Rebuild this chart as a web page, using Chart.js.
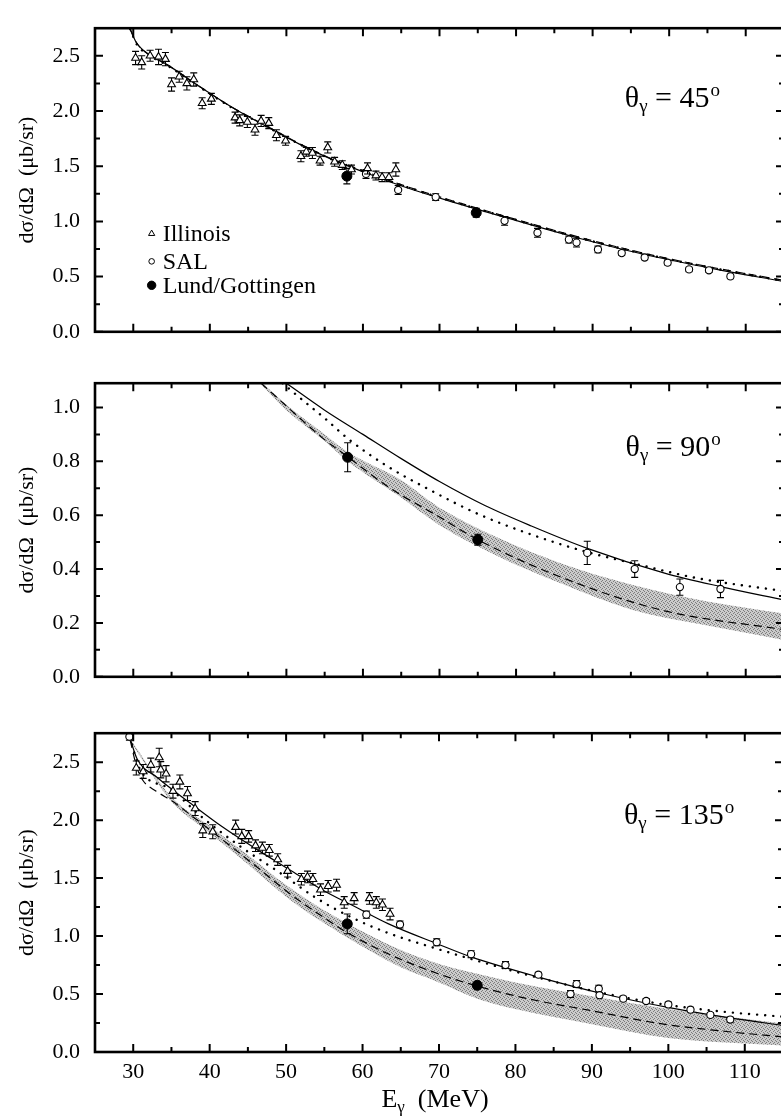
<!DOCTYPE html>
<html>
<head>
<meta charset="utf-8">
<script src="https://cdn.jsdelivr.net/npm/chart.js@4.4.1/dist/chart.umd.min.js"></script>
<style>
  html, body { margin: 0; padding: 0; background: #fff; overflow: hidden; }
  #page { position: relative; width: 781px; height: 1119px; overflow: hidden; }
  #page canvas { position: absolute; left: 0; }
</style>
</head>
<body>
<div id="page">
  <canvas id="c45"  width="790" height="360" style="top:0"></canvas>
  <canvas id="c90"  width="790" height="350" style="top:355px"></canvas>
  <canvas id="c135" width="790" height="414" style="top:705px"></canvas>
</div>
<script>
'use strict';

const FONT = '"Liberation Serif", "Times New Roman", serif';

// axis ticks
const xTicks   = [25, 30, 35, 40, 45, 50, 55, 60, 65, 70, 75, 80, 85, 90, 95, 100, 105, 110, 115];
const xLabels  = [30, 40, 50, 60, 70, 80, 90, 100, 110];
const yTicksA  = [0, 0.25, 0.5, 0.75, 1, 1.25, 1.5, 1.75, 2, 2.25, 2.5];
const yLabelsA = [0, 0.5, 1, 1.5, 2, 2.5];
const yTicksB  = [0, 0.1, 0.2, 0.3, 0.4, 0.5, 0.6, 0.7, 0.8, 0.9, 1.0];
const yLabelsB = [0, 0.2, 0.4, 0.6, 0.8, 1.0];

// theta = 45 deg
const ill45E   = [30.3, 31.1, 32.2, 33.3, 34.2, 35.0, 36.0, 37.0, 37.9, 39.0, 40.2, 43.3, 43.9, 44.9, 45.9, 46.7, 47.7, 48.7, 49.9, 51.9, 52.6, 53.4, 54.4, 55.4, 56.3, 57.3, 58.5, 60.6, 61.7, 62.5, 63.4, 64.3];
const ill45V   = [2.48, 2.44, 2.50, 2.49, 2.47, 2.24, 2.31, 2.25, 2.285, 2.07, 2.11, 1.94, 1.915, 1.90, 1.83, 1.91, 1.89, 1.78, 1.73, 1.59, 1.63, 1.62, 1.55, 1.67, 1.54, 1.51, 1.47, 1.48, 1.415, 1.40, 1.40, 1.47];
const ill45Err = [0.06, 0.06, 0.05, 0.07, 0.06, 0.06, 0.05, 0.06, 0.06, 0.05, 0.05, 0.05, 0.05, 0.05, 0.05, 0.05, 0.05, 0.05, 0.04, 0.05, 0.04, 0.05, 0.04, 0.05, 0.04, 0.04, 0.04, 0.05, 0.04, 0.04, 0.04, 0.06];
const sal45E   = [60.4, 64.6, 69.5, 78.5, 82.8, 86.9, 87.9, 90.7, 93.8, 96.8, 99.8, 102.6, 105.2, 108.0];
const sal45V   = [1.43, 1.285, 1.22, 1.005, 0.897, 0.835, 0.808, 0.746, 0.713, 0.673, 0.626, 0.565, 0.557, 0.502];
const sal45Err = [0.04, 0.04, 0.03, 0.04, 0.04, 0.03, 0.04, 0.03, 0.02, 0.02, 0.02, 0.02, 0.02, 0.02];
const lund45E   = [57.9, 74.8];
const lund45V   = [1.41, 1.078];
const lund45Err = [0.07, 0.04];
const curve45E = [29.6, 30.4, 31.3, 32.8, 34.4, 38.7, 43.0, 47.4, 51.7, 56.0, 60.4, 64.7, 70.8, 79.4, 88.1, 96.8, 105.5, 115];
const solid45  = [2.74, 2.62, 2.55, 2.48, 2.42, 2.22, 2.03, 1.86, 1.70, 1.56, 1.44, 1.33, 1.195, 1.02, 0.85, 0.70, 0.575, 0.455];
const dashed45 = [2.74, 2.62, 2.55, 2.48, 2.42, 2.22, 2.03, 1.865, 1.705, 1.565, 1.45, 1.34, 1.205, 1.03, 0.86, 0.71, 0.585, 0.465];
const dotted45 = [2.74, 2.61, 2.54, 2.475, 2.415, 2.215, 2.025, 1.86, 1.70, 1.56, 1.445, 1.335, 1.20, 1.025, 0.855, 0.705, 0.58, 0.46];

// theta = 90 deg
const sal90E   = [89.3, 95.5, 101.4, 106.7];
const sal90V   = [0.46, 0.40, 0.333, 0.326];
const sal90Err = [0.043, 0.031, 0.03, 0.032];
const lund90E   = [58.0, 75.0];
const lund90V   = [0.815, 0.509];
const lund90Err = [0.054, 0.02];
const solid90E  = [50.0, 55.0, 60.0, 65.0, 70.0, 76.0, 82.0, 89.3, 99.4, 106.7, 115];
const solid90V  = [1.09, 0.99, 0.90, 0.81, 0.725, 0.635, 0.56, 0.477, 0.385, 0.335, 0.285];
const dotted90E = [49.5, 52.0, 55.0, 58.0, 63.0, 69.0, 75.0, 82.0, 89.3, 95.5, 103.7, 115];
const dotted90V = [1.09, 1.03, 0.96, 0.885, 0.785, 0.69, 0.605, 0.528, 0.463, 0.42, 0.366, 0.318];
const dashed90E = [46.7, 50.4, 54.7, 58.0, 63.4, 69.9, 75.0, 86.4, 99.4, 115];
const dashed90V = [1.09, 0.995, 0.887, 0.817, 0.703, 0.595, 0.509, 0.364, 0.245, 0.175];
const band90E  = [46.7, 50, 55, 58, 64.7, 70, 77.7, 86, 95, 105, 115];
const band90Hi = [1.095, 1.01, 0.90, 0.835, 0.735, 0.628, 0.515, 0.42, 0.343, 0.28, 0.235];
const band90Lo = [1.085, 0.99, 0.875, 0.80, 0.671, 0.563, 0.447, 0.345, 0.25, 0.19, 0.137];

// theta = 135 deg
const ill135E   = [30.4, 31.3, 32.3, 33.4, 33.6, 34.3, 35.2, 36.1, 37.1, 38.1, 39.1, 40.4, 43.4, 44.2, 45.1, 46.0, 46.9, 47.8, 48.9, 50.2, 52.0, 52.8, 53.5, 54.5, 55.5, 56.6, 57.6, 58.9, 60.9, 61.8, 62.6, 63.6];
const ill135V   = [2.45, 2.42, 2.475, 2.54, 2.435, 2.40, 2.25, 2.33, 2.23, 2.10, 1.91, 1.90, 1.94, 1.86, 1.86, 1.78, 1.76, 1.74, 1.66, 1.56, 1.49, 1.51, 1.49, 1.40, 1.43, 1.44, 1.29, 1.325, 1.325, 1.29, 1.27, 1.19];
const ill135Err = [0.06, 0.06, 0.06, 0.08, 0.07, 0.07, 0.06, 0.06, 0.06, 0.06, 0.06, 0.06, 0.06, 0.06, 0.05, 0.05, 0.05, 0.05, 0.05, 0.05, 0.05, 0.05, 0.05, 0.05, 0.05, 0.05, 0.05, 0.05, 0.05, 0.05, 0.05, 0.05];
const sal135E   = [29.5, 60.5, 64.9, 69.7, 74.2, 78.7, 83.0, 87.2, 88.0, 90.9, 91.0, 94.1, 97.1, 100.0, 102.9, 105.5, 108.1];
const sal135V   = [2.72, 1.185, 1.10, 0.947, 0.844, 0.75, 0.667, 0.50, 0.586, 0.546, 0.49, 0.46, 0.44, 0.41, 0.365, 0.32, 0.28];
const sal135Err = [0.03, 0.03, 0.03, 0.03, 0.03, 0.03, 0.02, 0.03, 0.03, 0.03, 0.02, 0.02, 0.02, 0.02, 0.02, 0.02, 0.02];
const lund135E   = [58.0, 75.0];
const lund135V   = [1.105, 0.575];
const lund135Err = [0.085, 0.03];
const solid135E  = [29.4, 30.5, 33.1, 37.4, 41.7, 46.1, 50.4, 54.7, 59.1, 63.4, 69.9, 74.2, 82.9, 91.6, 100.3, 108.9, 115];
const solid135V  = [2.745, 2.53, 2.37, 2.15, 1.94, 1.75, 1.575, 1.40, 1.25, 1.105, 0.93, 0.82, 0.648, 0.50, 0.38, 0.285, 0.23];
const dotted135E = [29.6, 30.5, 31.3, 34.8, 39.1, 44.3, 49.1, 53.9, 58.6, 63.4, 69.5, 75.1, 81.6, 90.3, 99.0, 107.6, 115];
const dotted135V = [2.72, 2.50, 2.395, 2.27, 2.02, 1.76, 1.55, 1.33, 1.16, 1.025, 0.895, 0.785, 0.665, 0.525, 0.415, 0.345, 0.305];
const dashed135E = [29.6, 30.5, 31.3, 33.0, 35.2, 37.4, 41.7, 46.1, 50.4, 54.7, 58.0, 63.4, 69.9, 75.1, 81.6, 90.3, 99.0, 107.6, 115];
const dashed135V = [2.69, 2.45, 2.34, 2.25, 2.16, 2.05, 1.83, 1.60, 1.37, 1.17, 1.03, 0.845, 0.675, 0.567, 0.46, 0.352, 0.244, 0.177, 0.13];
const band135E  = [29.6, 35, 40, 45, 50, 55, 60, 65, 70, 75, 80, 90, 100, 115];
const band135Hi = [2.70, 2.20, 1.95, 1.70, 1.44, 1.22, 1.04, 0.88, 0.76, 0.675, 0.60, 0.48, 0.37, 0.245];
const band135Lo = [2.68, 2.16, 1.89, 1.62, 1.34, 1.11, 0.91, 0.73, 0.60, 0.46, 0.37, 0.24, 0.12, 0.055];

Chart.defaults.font.family = FONT;
Chart.defaults.color = '#000';

const pts = (xs, ys) => xs.map((x, i) => ({ x, y: ys[i] }));

// grey stipple like the printed error band
function stipple() {
  const c = document.createElement('canvas');
  c.width = 4; c.height = 4;
  const g = c.getContext('2d');
  g.fillStyle = '#cbcbcb';
  g.fillRect(0, 0, 4, 4);
  g.fillStyle = '#7c7c7c';
  [[0, 0], [2, 1], [1, 2], [3, 3]].forEach(([x, y]) => g.fillRect(x, y, 1, 1));
  return g.createPattern(c, 'repeat');
}
const BAND_FILL = stipple();

// --- dataset builders -----------------------------------------------------
const illinois = (e, v, err) => ({
  data: pts(e, v), errors: err, order: 0,
  pointStyle: 'triangle', pointRadius: 4.5, pointBorderWidth: 1.1,
  pointBackgroundColor: '#fff', pointBorderColor: '#000',
});
const sal = (e, v, err) => ({
  data: pts(e, v), errors: err, order: 0,
  pointStyle: 'circle', pointRadius: 3.6, pointBorderWidth: 1.1,
  pointBackgroundColor: '#fff', pointBorderColor: '#000',
});
const lund = (e, v, err) => ({
  data: pts(e, v), errors: err, order: 0,
  pointStyle: 'circle', pointRadius: 5, pointBorderWidth: 1,
  pointBackgroundColor: '#000', pointBorderColor: '#000',
});
const curve = (e, v, kind) => ({
  data: pts(e, v), showLine: true, pointRadius: 0, order: 1,
  borderColor: '#000', cubicInterpolationMode: 'monotone',
  borderWidth: kind === 'dotted' ? 2.4 : 1.2,
  borderCapStyle: kind === 'dotted' ? 'round' : 'butt',
  borderDash: kind === 'dotted' ? [0.1, 8] : kind === 'dashed' ? [8, 5] : [],
});
const bandEdge = (e, v, fill) => ({
  data: pts(e, v), showLine: true, pointRadius: 0, order: 2,
  borderWidth: 0, borderColor: 'transparent', backgroundColor: BAND_FILL,
  cubicInterpolationMode: 'monotone', fill,
});

// --- plugins --------------------------------------------------------------
const errorBars = {
  id: 'errorBars',
  beforeDatasetDraw(chart, args) {
    const ds = chart.data.datasets[args.index];
    if (!ds.errors) return;
    const { ctx, chartArea: a, scales: { y } } = chart;
    ctx.save();
    ctx.beginPath();
    ctx.rect(a.left, a.top, a.right - a.left, a.bottom - a.top);
    ctx.clip();
    ctx.strokeStyle = '#000';
    ctx.lineWidth = 1.1;
    args.meta.data.forEach((pt, i) => {
      const e = ds.errors[i];
      if (!e) return;
      const v = ds.data[i].y;
      const y1 = y.getPixelForValue(v + e);
      const y2 = y.getPixelForValue(v - e);
      ctx.beginPath();
      ctx.moveTo(pt.x, y1); ctx.lineTo(pt.x, y2);
      ctx.moveTo(pt.x - 3.5, y1); ctx.lineTo(pt.x + 3.5, y1);
      ctx.moveTo(pt.x - 3.5, y2); ctx.lineTo(pt.x + 3.5, y2);
      ctx.stroke();
    });
    ctx.restore();
  },
};

function frameTicks(yMajor) {
  return {
    id: 'frameTicks',
    afterDatasetsDraw(chart) {
      const { ctx, chartArea: a, scales: { x, y } } = chart;
      ctx.save();
      ctx.strokeStyle = '#000';
      ctx.lineWidth = 2;
      ctx.beginPath();
      x.ticks.forEach((t) => {
        const px = x.getPixelForValue(t.value);
        const len = t.value % 10 === 0 ? 8 : 5;
        ctx.moveTo(px, a.bottom); ctx.lineTo(px, a.bottom - len);
        ctx.moveTo(px, a.top);    ctx.lineTo(px, a.top + len);
      });
      y.ticks.forEach((t) => {
        const py = y.getPixelForValue(t.value);
        const len = yMajor.some((m) => Math.abs(m - t.value) < 1e-6) ? 8 : 5;
        ctx.moveTo(a.left, py);  ctx.lineTo(a.left + len, py);
        ctx.moveTo(a.right, py); ctx.lineTo(a.right - len, py);
      });
      ctx.stroke();
      ctx.lineWidth = 2.6;
      ctx.strokeRect(a.left, a.top, a.right - a.left, a.bottom - a.top);
      ctx.restore();
    },
  };
}

function drawTheta(ctx, px, py, deg) {
  ctx.fillStyle = '#000';
  ctx.textBaseline = 'alphabetic';
  ctx.textAlign = 'left';
  let x = px;
  ctx.font = `30px ${FONT}`;
  ctx.fillText('θ', x, py);
  x += ctx.measureText('θ').width;
  ctx.font = `19px ${FONT}`;
  ctx.fillText('γ', x, py + 5);
  x += ctx.measureText('γ').width;
  ctx.font = `30px ${FONT}`;
  const main = ' = ' + deg;
  ctx.fillText(main, x, py);
  x += ctx.measureText(main).width;
  ctx.font = `19px ${FONT}`;
  ctx.fillText('o', x + 1, py - 11);
}

function panelText(cfg) {
  return {
    id: 'panelText',
    afterDraw(chart) {
      const { ctx, chartArea: a, scales: { x, y } } = chart;
      ctx.save();
      drawTheta(ctx, x.getPixelForValue(cfg.theta.x), y.getPixelForValue(cfg.theta.y), cfg.theta.deg);

      if (cfg.legend) {
        const items = [
          { text: 'Illinois',        style: 'triangle', r: 3.6, fill: '#fff', y: 0.889 },
          { text: 'SAL',             style: 'circle',   r: 2.8, fill: '#fff', y: 0.638 },
          { text: 'Lund/Gottingen',  style: 'circle',   r: 4.2, fill: '#000', y: 0.421 },
        ];
        const mx = x.getPixelForValue(32.4);
        ctx.font = `24px ${FONT}`;
        ctx.textBaseline = 'middle';
        items.forEach((it) => {
          const my = y.getPixelForValue(it.y);
          ctx.fillStyle = it.fill;
          ctx.strokeStyle = '#000';
          ctx.lineWidth = 1;
          Chart.helpers.drawPoint(ctx, { pointStyle: it.style, radius: it.r, borderWidth: 1, rotation: 0 }, mx, my);
          ctx.fillStyle = '#000';
          ctx.fillText(it.text, mx + 11, my + 1);
        });
      }

      if (cfg.showX) {
        const cx = (a.left + a.right) / 2 - 4;
        const by = a.bottom + 55;
        ctx.fillStyle = '#000';
        ctx.textBaseline = 'alphabetic';
        ctx.font = `26px ${FONT}`;
        const wE = ctx.measureText('E').width;
        const rest = '  (MeV)';
        const wR = ctx.measureText(rest).width;
        ctx.font = `17px ${FONT}`;
        const wG = ctx.measureText('γ').width;
        let sx = cx - (wE + wG + wR) / 2;
        ctx.font = `26px ${FONT}`;
        ctx.fillText('E', sx, by);
        sx += wE;
        ctx.font = `17px ${FONT}`;
        ctx.fillText('γ', sx, by + 5);
        sx += wG;
        ctx.font = `26px ${FONT}`;
        ctx.fillText(rest, sx, by);
      }
      ctx.restore();
    },
  };
}

function makePanel(id, cfg) {
  return new Chart(document.getElementById(id), {
    type: 'scatter',
    data: { datasets: cfg.datasets },
    options: {
      responsive: false,
      animation: false,
      devicePixelRatio: 1,
      events: [],
      layout: { padding: { left: 0, right: 3, top: cfg.padTop, bottom: cfg.padBottom } },
      plugins: { legend: { display: false }, tooltip: { enabled: false } },
      scales: {
        x: {
          type: 'linear', min: 25, max: 115,
          afterBuildTicks: (s) => { s.ticks = xTicks.map((v) => ({ value: v })); },
          afterFit: (s) => { s.height = cfg.xHeight; },
          grid: { display: false, drawTicks: false },
          border: { display: false },
          ticks: {
            display: cfg.showX, autoSkip: false, maxRotation: 0, padding: 7,
            color: '#000', font: { family: FONT, size: 22 },
            callback: (v) => (xLabels.includes(v) ? String(v) : ''),
          },
        },
        y: {
          type: 'linear', min: 0, max: cfg.yMax,
          afterBuildTicks: (s) => { s.ticks = cfg.yTicks.map((v) => ({ value: v })); },
          afterFit: (s) => { s.width = 95; },
          grid: { display: false, drawTicks: false },
          border: { display: false },
          ticks: {
            autoSkip: false, padding: 15, color: '#000', font: { family: FONT, size: 22 },
            callback: (v) => (cfg.yLabels.some((m) => Math.abs(m - v) < 1e-6) ? v.toFixed(1) : ''),
          },
          title: {
            display: true, text: 'dσ/dΩ  (μb/sr)', color: '#000',
            font: { family: FONT, size: 22 }, padding: { top: 14, bottom: 0 },
          },
        },
      },
    },
    plugins: [errorBars, frameTicks(cfg.yLabels), panelText(cfg)],
  });
}

makePanel('c45', {
  yMax: 2.75, yTicks: yTicksA, yLabels: yLabelsA,
  padTop: 9, padBottom: 12, xHeight: 0, showX: false, legend: true,
  theta: { x: 94.2, y: 2.04, deg: '45' },
  datasets: [
    illinois(ill45E, ill45V, ill45Err),
    sal(sal45E, sal45V, sal45Err),
    lund(lund45E, lund45V, lund45Err),
    curve(curve45E, solid45, 'solid'),
    curve(curve45E, dashed45, 'dashed'),
    curve(curve45E, dotted45, 'dotted'),
  ],
});

makePanel('c90', {
  yMax: 1.09, yTicks: yTicksB, yLabels: yLabelsB,
  padTop: 7, padBottom: 6, xHeight: 0, showX: false, legend: false,
  theta: { x: 94.3, y: 0.819, deg: '90' },
  datasets: [
    sal(sal90E, sal90V, sal90Err),
    lund(lund90E, lund90V, lund90Err),
    curve(solid90E, solid90V, 'solid'),
    curve(dotted90E, dotted90V, 'dotted'),
    curve(dashed90E, dashed90V, 'dashed'),
    bandEdge(band90E, band90Hi, '+1'),
    bandEdge(band90E, band90Lo, false),
  ],
});

makePanel('c135', {
  yMax: 2.75, yTicks: yTicksA, yLabels: yLabelsA,
  padTop: 6, padBottom: 0, xHeight: 67, showX: true, legend: false,
  theta: { x: 94.2, y: 1.97, deg: '135' },
  datasets: [
    illinois(ill135E, ill135V, ill135Err),
    sal(sal135E, sal135V, sal135Err),
    lund(lund135E, lund135V, lund135Err),
    curve(solid135E, solid135V, 'solid'),
    curve(dotted135E, dotted135V, 'dotted'),
    curve(dashed135E, dashed135V, 'dashed'),
    bandEdge(band135E, band135Hi, '+1'),
    bandEdge(band135E, band135Lo, false),
  ],
});
</script>
</body>
</html>
